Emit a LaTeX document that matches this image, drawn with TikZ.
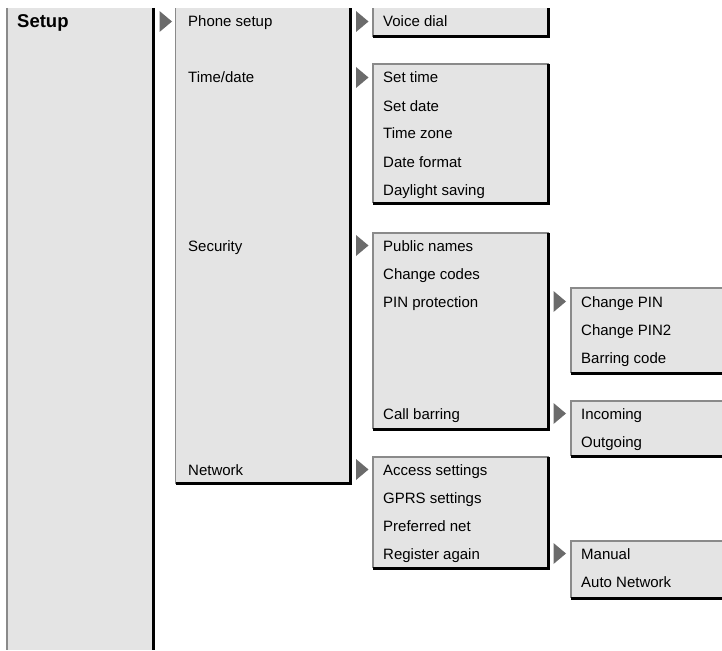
\documentclass[tikz,border=0pt]{standalone}
\usepackage{fontspec}
\setmainfont{Liberation Sans}
\definecolor{boxgray}{HTML}{E4E4E4}
\definecolor{edgegray}{HTML}{8A8A8A}
\definecolor{arrowgray}{HTML}{6B6B6B}
\newcommand\itemfont{\fontsize{15}{18}\selectfont}
\newcommand\headfont{\fontsize{18.5}{22}\selectfont\bfseries}
\tikzset{
  panelfill/.style={fill=boxgray},
  lightedge/.style={draw=edgegray, line width=1.7pt},
  darkedge/.style={draw=black, line width=3pt},
  item/.style={anchor=base west, inner sep=0pt, font=\itemfont},
  pointer/.style={fill=arrowgray}
}
% \menupanel{left}{top}{right}{bottom}
\newcommand\menupanel[4]{%
  \fill[panelfill] (#1,#2) rectangle (#3,#4);
  \draw[lightedge] (#1,#4) -- (#1,#2) -- (#3,#2);
  \draw[darkedge] (#1,#4) -- (#3,#4) -- (#3,#2);}
\newcommand\openpanel[4]{%
  \fill[panelfill] (#1,#2) rectangle (#3,#4);
  \draw[lightedge] (#1,#4) -- (#1,#2);
  \draw[darkedge] (#1,#4) -- (#3,#4) -- (#3,#2);}
\newcommand\edgepanel[4]{%
  \fill[panelfill] (#1,#2) rectangle (#3,#4);
  \draw[lightedge] (#1,#4) -- (#1,#2) -- (#3,#2);
  \draw[darkedge] (#1,#4) -- (#3,#4);}
% \menuarrow{left x}{baseline}
\newcommand\menuarrow[2]{%
  \fill[pointer] (#1,#2-16) -- (#1+12.5,#2-5.5) -- (#1,#2+5) -- cycle;}
\begin{document}
\begin{tikzpicture}[x=1pt,y=-1pt]
\useasboundingbox (0,0) rectangle (722,650);
% level 1
\fill[panelfill] (7,8) rectangle (153.5,650);
\draw[lightedge] (7,8) -- (7,650);
\draw[darkedge] (153.5,8) -- (153.5,650);
\node[item, font=\headfont] (setup) at (17,28) {Setup};
% level 2
\openpanel{175.5}{8}{350.5}{483.5}
\menuarrow{159.5}{27}
\node[item] (phone) at (188,27) {Phone setup};
\node[item] (time) at (188,83) {Time/date};
\node[item] (security) at (188,251) {Security};
\node[item] (network) at (188,475) {Network};
% level 3
\openpanel{373}{8}{548.5}{37}
\menupanel{373}{64}{548.5}{203}
\menupanel{373}{233}{548.5}{429}
\menupanel{373}{457}{548.5}{568}
\menuarrow{356}{27}
\menuarrow{356}{83}
\menuarrow{356}{251}
\menuarrow{356}{475}
\node[item] (voice) at (383,27) {Voice dial};
\node[item] (settime) at (383,83) {Set time};
\node[item] (setdate) at (383,111) {Set date};
\node[item] (zone) at (383,139) {Time zone};
\node[item] (format) at (383,167) {Date format};
\node[item] (daylight) at (383,195) {Daylight saving};
\node[item] (public) at (383,251) {Public names};
\node[item] (codes) at (383,279) {Change codes};
\node[item] (pinprot) at (383,307) {PIN protection};
\node[item] (callbar) at (383,419) {Call barring};
\node[item] (access) at (383,475) {Access settings};
\node[item] (gprs) at (383,503) {GPRS settings};
\node[item] (prefnet) at (383,531) {Preferred net};
\node[item] (register) at (383,559) {Register again};
% level 4
\edgepanel{571}{288}{722}{373}
\edgepanel{571}{401}{722}{456}
\edgepanel{571}{541}{722}{598}
\menuarrow{553.5}{307}
\menuarrow{553.5}{419}
\menuarrow{553.5}{559}
\node[item] (pin) at (581,307) {Change PIN};
\node[item] (pin2) at (581,335) {Change PIN2};
\node[item] (barcode) at (581,363) {Barring code};
\node[item] (incoming) at (581,419) {Incoming};
\node[item] (outgoing) at (581,447) {Outgoing};
\node[item] (manual) at (581,559) {Manual};
\node[item] (auto) at (581,587) {Auto Network};
\end{tikzpicture}
\end{document}
